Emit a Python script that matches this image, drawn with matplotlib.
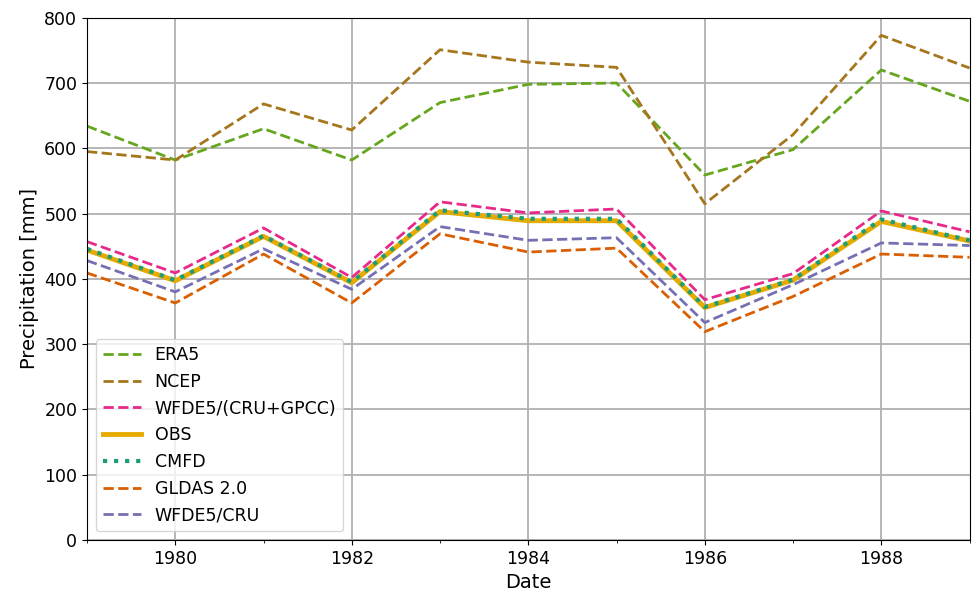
import numpy as np
import matplotlib
matplotlib.use("Agg")
from matplotlib import pyplot as plt
from matplotlib.ticker import MultipleLocator

# annual precipitation, 1979-1989
years = np.arange(1979, 1990)
era5 = [634, 582, 630, 582, 670, 698, 700, 559, 598, 720, 672]
ncep = [595, 582, 668, 628, 751, 732, 724, 515, 621, 773, 723]
wfde5_cru_gpcc = [457, 409, 478, 402, 518, 501, 507, 368, 408, 504, 472]
obs = [444, 397, 465, 394, 503, 489, 489, 356, 398, 488, 458]
cmfd = [446, 398, 466, 395, 505, 492, 492, 357, 399, 491, 459]
gldas = [409, 363, 438, 363, 469, 441, 447, 319, 373, 438, 433]
wfde5_cru = [428, 380, 446, 384, 480, 459, 463, 333, 391, 455, 451]

fig = plt.figure(figsize=(9.72, 5.92), dpi=100)
ax = fig.add_axes([0.0895, 0.088, 0.908, 0.882])

ax.plot(years, era5, '--', color='#66a61e', lw=2, label='ERA5')
ax.plot(years, ncep, '--', color='#a6761d', lw=2, label='NCEP')
ax.plot(years, wfde5_cru_gpcc, '--', color='#e7298a', lw=2, label='WFDE5/(CRU+GPCC)')
ax.plot(years, obs, '-', color='#e6ab02', lw=3.5, label='OBS')
ax.plot(years, cmfd, ':', color='#1b9e77', lw=3, label='CMFD')
ax.plot(years, gldas, '--', color='#d95f02', lw=2, label='GLDAS 2.0')
ax.plot(years, wfde5_cru, '--', color='#7570b3', lw=2, label='WFDE5/CRU')

ax.set_xlim(1979, 1989)
ax.set_ylim(0, 800)
ax.xaxis.set_major_locator(MultipleLocator(2))
ax.xaxis.set_minor_locator(MultipleLocator(1))
ax.yaxis.set_major_locator(MultipleLocator(100))
ax.grid(True, which='major', color='#b0b0b0', lw=1.3)
ax.tick_params(labelsize=12.5)
ax.set_xlabel('Date', fontsize=14)
ax.set_ylabel('Precipitation [mm]', fontsize=14)
ax.legend(loc='lower left', fontsize=12.5, handlelength=2.2)

fig.savefig('out.png', dpi=100)
